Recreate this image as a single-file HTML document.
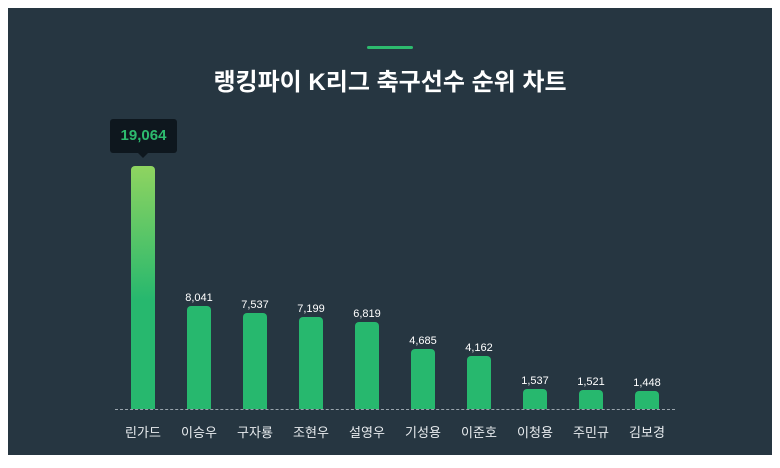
<!DOCTYPE html><html><head><meta charset="utf-8"><style>
body{margin:0;width:780px;height:468px;background:#fff;font-family:"Liberation Sans","Noto Sans CJK KR",sans-serif;overflow:hidden}
.p{position:absolute;left:8px;top:8px;width:764px;height:447px;background:#263641}
.t{position:absolute;left:0;width:780px;top:62px;text-align:center;color:#fff;font-size:24px;font-weight:bold}
.g{position:absolute;left:367px;top:46px;width:46px;height:3px;background:#2dbb6e;border-radius:2px}
.b{position:absolute;width:24px;border-radius:4px 4px 0 0;background:#27b86e}
.v{position:absolute;width:60px;text-align:center;color:#fff;font-size:11px}
.l{position:absolute;width:60px;text-align:center;color:#e8ecef;font-size:13px;top:422px}
</style></head><body><div class="p"></div><div class="g"></div>
<div class="t">랭킹파이 K리그 축구선수 순위 차트</div>
<div style="position:absolute;left:110px;top:119px;width:67px;height:34px;background:#0e171e;border-radius:3px;color:#2dbb6e;font-weight:bold;font-size:15px;text-align:center;line-height:34px">19,064</div>
<div style="position:absolute;left:138px;top:153px;width:0;height:0;border-left:5px solid transparent;border-right:5px solid transparent;border-top:5px solid #0e171e"></div>
<div style="position:absolute;left:115px;top:409px;width:560px;border-top:1px dashed #9aa5ad"></div>
<div id="c"></div>
<script>
var d=[["린가드",19064],["이승우",8041],["구자룡",7537],["조현우",7199],["설영우",6819],["기성용",4685],["이준호",4162],["이청용",1537],["주민규",1521],["김보경",1448]];
var h="";d.forEach(function(x,i){var c=143+56*i,ht=x[1]*0.01275,top=409-ht;
h+='<div class="b" style="left:'+(c-12)+'px;top:'+top+'px;height:'+ht+'px;'+(i==0?'background:linear-gradient(#8fd460,#27b86e 55%)':'')+'"></div>';
if(i>0)h+='<div class="v" style="left:'+(c-30)+'px;top:'+(top-14)+'px">'+x[1].toLocaleString("en-US")+'</div>';
h+='<div class="l" style="left:'+(c-30)+'px">'+x[0]+'</div>';});
document.getElementById("c").innerHTML=h;
</script></body></html>
